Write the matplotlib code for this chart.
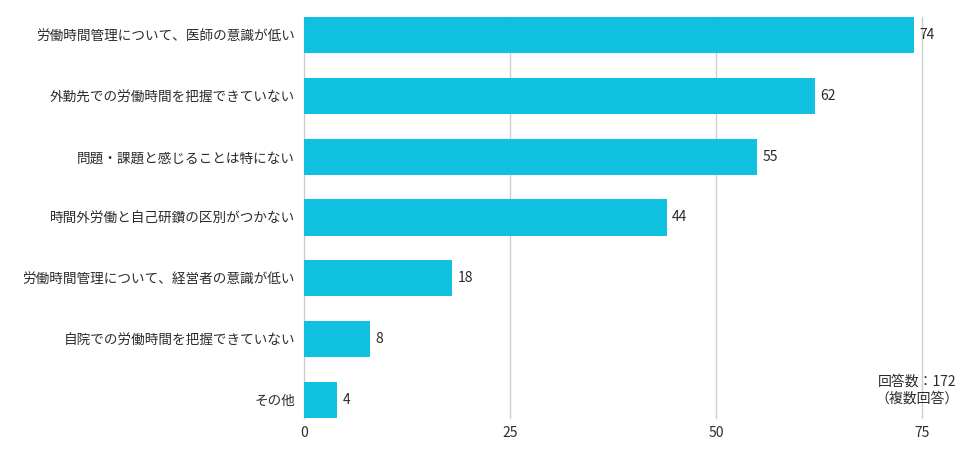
import matplotlib
matplotlib.use("Agg")
import matplotlib.pyplot as plt

plt.rcParams['font.family'] = ['Noto Sans CJK JP', 'DejaVu Sans']

categories = [
    "労働時間管理について、医師の意識が低い",
    "外勤先での労働時間を把握できていない",
    "問題・課題と感じることは特にない",
    "時間外労働と自己研鑽の区別がつかない",
    "労働時間管理について、経営者の意識が低い",
    "自院での労働時間を把握できていない",
    "その他",
]
values = [74, 62, 55, 44, 18, 8, 4]
xticks = [0, 25, 50, 75]
note = "回答数：172\n（複数回答）"

bar_color = "#0fc1de"
text_color = "#2b2b2b"

fig = plt.figure(figsize=(9.76, 4.59), dpi=100)
ax = fig.add_axes([304 / 976, 1 - 418 / 459, 618 / 976, 401 / 459])

pos = list(range(len(categories)))
ax.barh(pos, values, height=0.6, color=bar_color, zorder=2)
for p, v in zip(pos, values):
    ax.annotate(str(v), (v, p), xytext=(4, 0), textcoords="offset points",
                va="center", ha="left", fontsize=10, color=text_color)

ax.set_xlim(0, 75)
ax.set_ylim(len(categories) - 0.7, -0.3)
ax.set_yticks(pos)
ax.set_yticklabels(categories, fontsize=9.8, color=text_color)
ax.set_xticks(xticks)
ax.set_xticklabels([str(t) for t in xticks], fontsize=10, color=text_color)
ax.tick_params(length=0, axis="y", pad=6.5)
ax.tick_params(length=0, axis="x", pad=6)
ax.grid(axis="x", color="#cccccc", linewidth=1, zorder=0)
for gl in ax.get_xgridlines():
    gl.set_clip_on(False)
for s in ax.spines.values():
    s.set_visible(False)

fig.text(917 / 976, 1 - 390 / 459, note, ha="center", va="center",
         multialignment="center", fontsize=10, color=text_color, linespacing=1.2)

fig.savefig("out.png", dpi=100)
